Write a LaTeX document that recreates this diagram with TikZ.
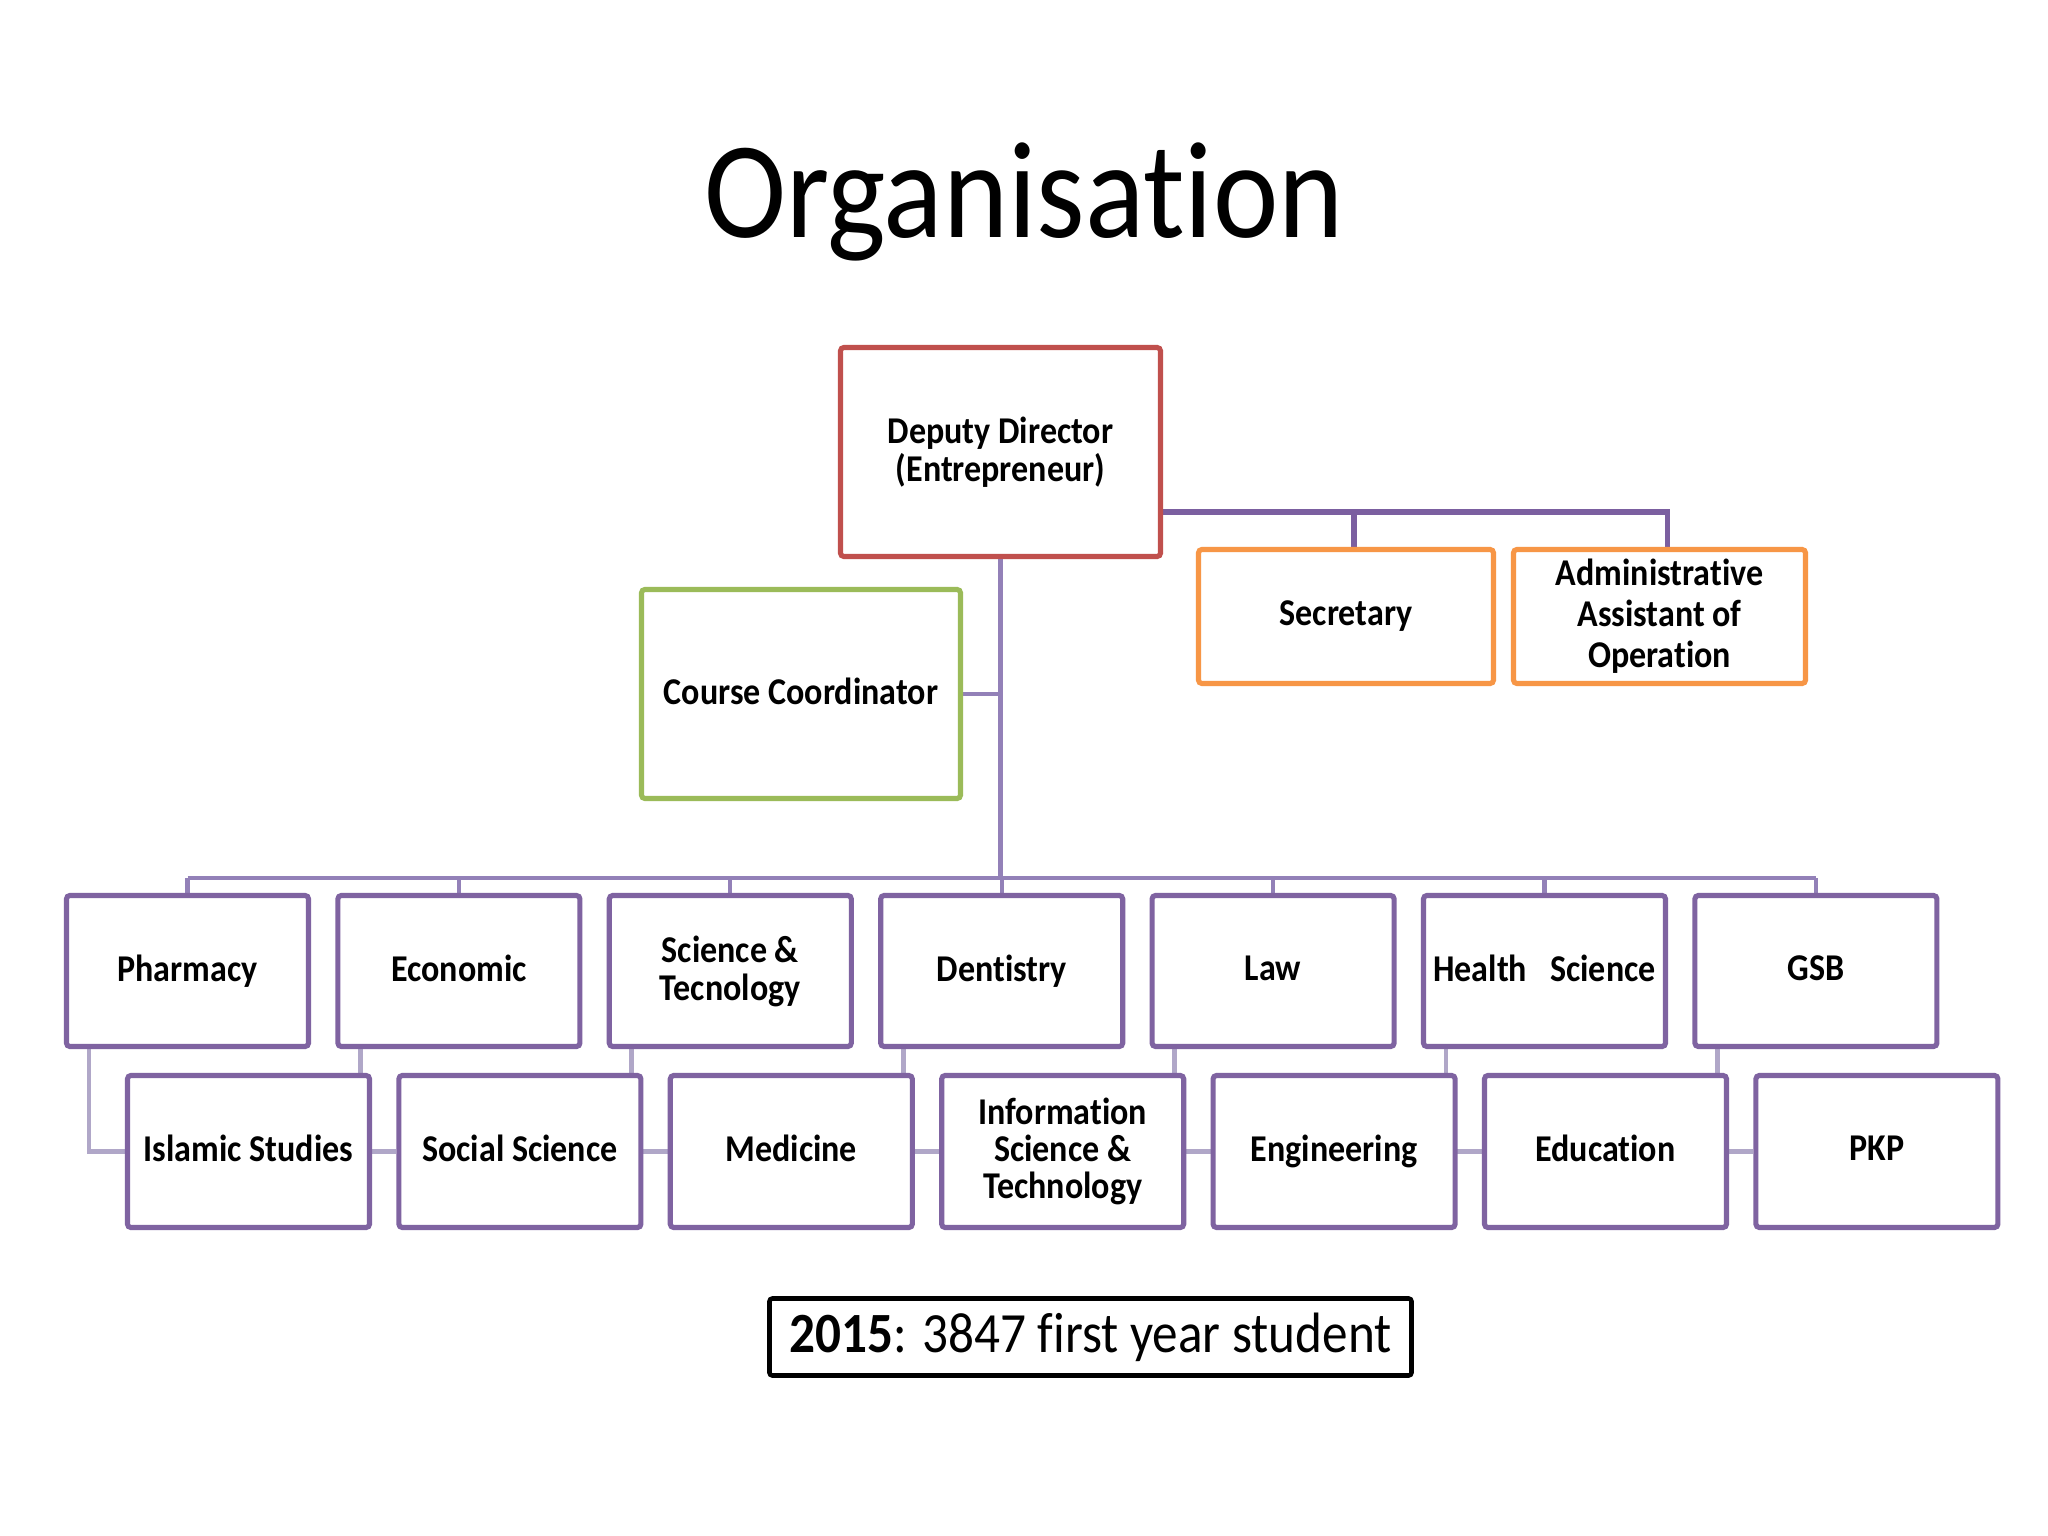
\documentclass[tikz,border=0pt]{standalone}
\usepackage{fontspec}
\newfontfamily\cf[FakeStretch=0.9, Ligatures=NoCommon]{Carlito}
\usetikzlibrary{calc}
\pgfdeclarelayer{background}
\pgfsetlayers{background,main}
\definecolor{cred}{HTML}{C0504D}
\definecolor{cgreen}{HTML}{9BBB59}
\definecolor{corange}{HTML}{F79646}
\definecolor{cpurple}{HTML}{7F63A1}
\definecolor{cbus}{HTML}{9381B8}
\definecolor{cdark}{HTML}{7B5FA0}
\definecolor{cchild}{HTML}{B0A7C8}
\newcommand\st{\vphantom{Ay}}
\tikzset{
  boxbase/.style={draw, fill=white, line width=1.8pt, rounded corners=1.2pt, inner sep=0pt, align=center,
    font=\cf\bfseries\fontsize{13.3}{13.4}\selectfont},
  redbox/.style={boxbase, draw=cred},
  greenbox/.style={boxbase, draw=cgreen},
  orangebox/.style={boxbase, draw=corange},
  purplebox/.style={boxbase, draw=cpurple},
  notebox/.style={draw=black, fill=white, line width=1.6pt, rounded corners=1pt, inner sep=0pt,
    font=\cf\fontsize{20}{22}\selectfont},
  busline/.style={draw=cbus, line width=1.5pt},
  darkline/.style={draw=cdark, line width=1.9pt},
  childline/.style={draw=cchild, line width=1.7pt},
}
\newcommand\bx[7]{%
  \pgfmathsetmacro\bw{(#4-#2-5)*0.3515625}%
  \pgfmathsetmacro\bh{(#5-#3-5)*0.3515625}%
  \node[#6, minimum width=\bw pt, minimum height=\bh pt] (#1) at ({(#2+#4)/2},{(#3+#5)/2}) {\st#7\st};%
}
\begin{document}
\begin{tikzpicture}[x=0.3515625pt, y=-0.3515625pt]
\useasboundingbox (0,0) rectangle (2048,1536);
% title
\node[anchor=base, font=\cf\fontsize{48.4}{50}\selectfont, inner sep=0pt] (title) at (1024,238) {Organisation};
% top management
\bx{dep}{838}{345}{1163}{559}{redbox}{Deputy Director\\(Entrepreneur)}
\bx{cc}{639}{587}{963}{801}{greenbox}{Course Coordinator}
\bx{sec}{1196}{547}{1496}{686}{orangebox}{Secretary}
\bx{adm}{1511}{547}{1808}{686}{orangebox, font=\cf\bfseries\fontsize{13.3}{14.4}\selectfont}{Administrative\\Assistant of\\Operation}
% top row
\bx{ph}{64}{893}{311}{1049}{purplebox}{Pharmacy}
\bx{ec}{335.4}{893}{582.4}{1049}{purplebox}{Economic}
\bx{st}{606.8}{893}{853.8}{1049}{purplebox}{Science \&\\Tecnology}
\bx{de}{878.2}{893}{1125.2}{1049}{purplebox}{Dentistry}
\bx{la}{1149.6}{893}{1396.6}{1049}{purplebox}{Law}
\bx{hs}{1421}{893}{1668}{1049}{purplebox}{Health\ \ \ Science}
\bx{gs}{1692.4}{893}{1939.4}{1049}{purplebox}{GSB}
% bottom row
\bx{is}{125}{1073}{372}{1230}{purplebox}{Islamic Studies}
\bx{ss}{396.4}{1073}{643.4}{1230}{purplebox}{Social Science}
\bx{me}{667.8}{1073}{914.8}{1230}{purplebox}{Medicine}
\bx{it}{939.2}{1073}{1186.2}{1230}{purplebox, font=\cf\bfseries\fontsize{13.3}{13}\selectfont}{Information\\Science \&\\Technology}
\bx{en}{1210.6}{1073}{1457.6}{1230}{purplebox}{Engineering}
\bx{ed}{1482}{1073}{1729}{1230}{purplebox}{Education}
\bx{pk}{1753.4}{1073}{2000.4}{1230}{purplebox}{PKP}
% note
\bx{note}{767}{1296}{1414}{1378}{notebox}{{\bfseries 2015}: 3847 first year student}
% connectors
\coordinate (busy) at (0,878);
\coordinate (secy) at (0,512);
\coordinate (secd) at ($(sec.north)+(8,0)$);
\coordinate (admd) at ($(adm.north)+(8,0)$);
\begin{pgfonlayer}{background}
\fill[white] (0,0) rectangle (2048,1536);
\draw[busline] (dep.south) -- (dep.south |- busy);
\draw[busline] (cc.east) -- (cc.east -| dep.south);
\draw[busline] (ph.north |- busy) -- (gs.north |- busy);
\foreach \t in {ph,ec,st,de,la,hs,gs} {
  \draw[busline] (\t.north) -- (\t.north |- busy);
}
\draw[darkline] (dep.east |- secy) -| (admd);
\draw[darkline] (secd) -- (secd |- secy);
\foreach \t/\b in {ph/is,ec/ss,st/me,de/it,la/en,hs/ed,gs/pk} {
  \draw[childline] ($(\t.south west)+(25,0)$) |- (\b.west);
}
\end{pgfonlayer}
\end{tikzpicture}
\end{document}
